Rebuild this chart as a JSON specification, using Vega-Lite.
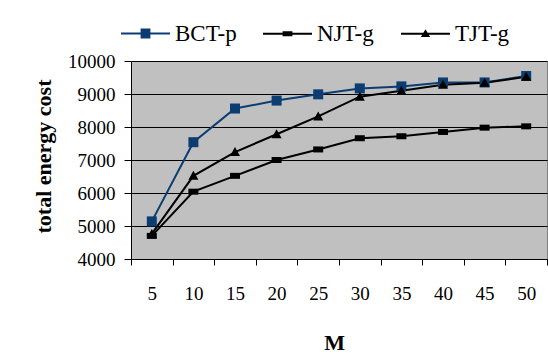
{
  "$schema": "https://vega.github.io/schema/vega-lite/v6.json",
  "width": 416,
  "height": 198,
  "autosize": "none",
  "padding": {"left": 131, "top": 61, "right": 1, "bottom": 105},
  "background": "white",
  "data": {"values": [
    {"M": "5", "series": "BCT-p", "cost": 5140},
    {"M": "10", "series": "BCT-p", "cost": 7540},
    {"M": "15", "series": "BCT-p", "cost": 8560},
    {"M": "20", "series": "BCT-p", "cost": 8800},
    {"M": "25", "series": "BCT-p", "cost": 8990},
    {"M": "30", "series": "BCT-p", "cost": 9170},
    {"M": "35", "series": "BCT-p", "cost": 9230},
    {"M": "40", "series": "BCT-p", "cost": 9350},
    {"M": "45", "series": "BCT-p", "cost": 9350},
    {"M": "50", "series": "BCT-p", "cost": 9545},
    {"M": "5", "series": "NJT-g", "cost": 4700},
    {"M": "10", "series": "NJT-g", "cost": 6040},
    {"M": "15", "series": "NJT-g", "cost": 6520},
    {"M": "20", "series": "NJT-g", "cost": 7000},
    {"M": "25", "series": "NJT-g", "cost": 7320},
    {"M": "30", "series": "NJT-g", "cost": 7660},
    {"M": "35", "series": "NJT-g", "cost": 7720},
    {"M": "40", "series": "NJT-g", "cost": 7850},
    {"M": "45", "series": "NJT-g", "cost": 7980},
    {"M": "50", "series": "NJT-g", "cost": 8020},
    {"M": "5", "series": "TJT-g", "cost": 4760},
    {"M": "10", "series": "TJT-g", "cost": 6520},
    {"M": "15", "series": "TJT-g", "cost": 7240},
    {"M": "20", "series": "TJT-g", "cost": 7780},
    {"M": "25", "series": "TJT-g", "cost": 8320},
    {"M": "30", "series": "TJT-g", "cost": 8920},
    {"M": "35", "series": "TJT-g", "cost": 9100},
    {"M": "40", "series": "TJT-g", "cost": 9280},
    {"M": "45", "series": "TJT-g", "cost": 9340},
    {"M": "50", "series": "TJT-g", "cost": 9520}
  ]},
  "encoding": {
    "x": {
      "field": "M", "type": "ordinal", "sort": null,
      "scale": {"paddingInner": 0, "paddingOuter": 0},
      "axis": {
        "title": "M", "labelAngle": 0, "tickBand": "extent",
        "domainColor": "black", "tickColor": "black", "tickSize": 6,
        "labelPadding": 19, "labelFontSize": 19, "labelColor": "black",
        "titleFontSize": 22, "titleFontWeight": "bold", "titleColor": "black",
        "titleX": 203, "titleY": 83, "titleBaseline": "middle", "titleAlign": "center"
      }
    },
    "y": {
      "field": "cost", "type": "quantitative",
      "scale": {"domain": [4000, 10000], "nice": false, "zero": false},
      "axis": {
        "title": "total energy cost", "values": [4000, 5000, 6000, 7000, 8000, 9000, 10000],
        "format": "d", "grid": true, "gridColor": "black", "gridOpacity": 1, "gridWidth": 1,
        "domainColor": "black", "tickColor": "black", "tickSize": 7, "labelPadding": 9,
        "labelFontSize": 19, "labelColor": "black",
        "titleFontSize": 22, "titleFontWeight": "bold", "titleColor": "black",
        "titleX": -88, "titleY": 95, "titleAngle": -90, "titleBaseline": "middle", "titleAlign": "center"
      }
    },
    "color": {
      "field": "series", "type": "nominal",
      "scale": {"domain": ["BCT-p", "NJT-g", "TJT-g"], "range": ["#0b3d72", "#000000", "#000000"]},
      "legend": null
    }
  },
  "layer": [
    {"mark": {"type": "line", "strokeWidth": 2}},
    {
      "mark": {"type": "point", "filled": true, "opacity": 1, "size": 100},
      "encoding": {
        "shape": {
          "field": "series", "type": "nominal",
          "scale": {"domain": ["BCT-p", "NJT-g", "TJT-g"], "range": ["square", "M-1,-0.6H1V0.6H-1Z", "M0,-1L1,0.8L-1,0.8Z"]},
          "legend": null
        }
      }
    },
    {
      "transform": [{"filter": "datum.series === 'BCT-p'"}],
      "mark": {"type": "point", "filled": true, "opacity": 0, "size": 2401},
      "encoding": {
        "shape": {
          "field": "series", "type": "nominal",
          "scale": {"domain": ["BCT-p"], "range": ["M-1,-0.04H1V0.04H-1Z M-0.2,-0.2H0.2V0.2H-0.2Z"]},
          "legend": {
            "title": null, "orient": "none", "direction": "horizontal",
            "legendX": -11, "legendY": -53, "padding": 0,
            "symbolSize": 2401, "labelOffset": 4,
            "labelFontSize": 23, "labelColor": "black",
            "symbolOpacity": 1, "symbolFillColor": "#0b3d72", "symbolStrokeColor": "transparent"
          }
        }
      }
    },
    {
      "transform": [{"filter": "datum.series !== 'BCT-p'"}],
      "mark": {"type": "point", "filled": true, "opacity": 0, "size": 2401},
      "encoding": {
        "shape": {
          "field": "series", "type": "nominal",
          "scale": {"domain": ["NJT-g", "TJT-g"], "range": [
            "M-1,-0.04H1V0.04H-1Z M-0.2,-0.1H0.2V0.1H-0.2Z",
            "M-1,-0.04H1V0.04H-1Z M0,-0.18L0.19,0.13L-0.19,0.13Z"
          ]},
          "legend": {
            "title": null, "orient": "none", "direction": "horizontal",
            "legendX": 131, "legendY": -53, "padding": 0,
            "symbolSize": 2401, "labelOffset": 4, "columnPadding": 24,
            "labelFontSize": 23, "labelColor": "black",
            "symbolOpacity": 1, "symbolFillColor": "#000000", "symbolStrokeColor": "transparent"
          }
        }
      }
    }
  ],
  "resolve": {"scale": {"shape": "independent"}},
  "config": {
    "font": "Times New Roman, Liberation Serif, serif",
    "axis": {"labelFont": "Times New Roman, Liberation Serif, serif", "titleFont": "Times New Roman, Liberation Serif, serif"},
    "legend": {"labelFont": "Times New Roman, Liberation Serif, serif"},
    "view": {"fill": "#c0c0c0", "stroke": "#808080", "strokeWidth": 1}
  }
}
